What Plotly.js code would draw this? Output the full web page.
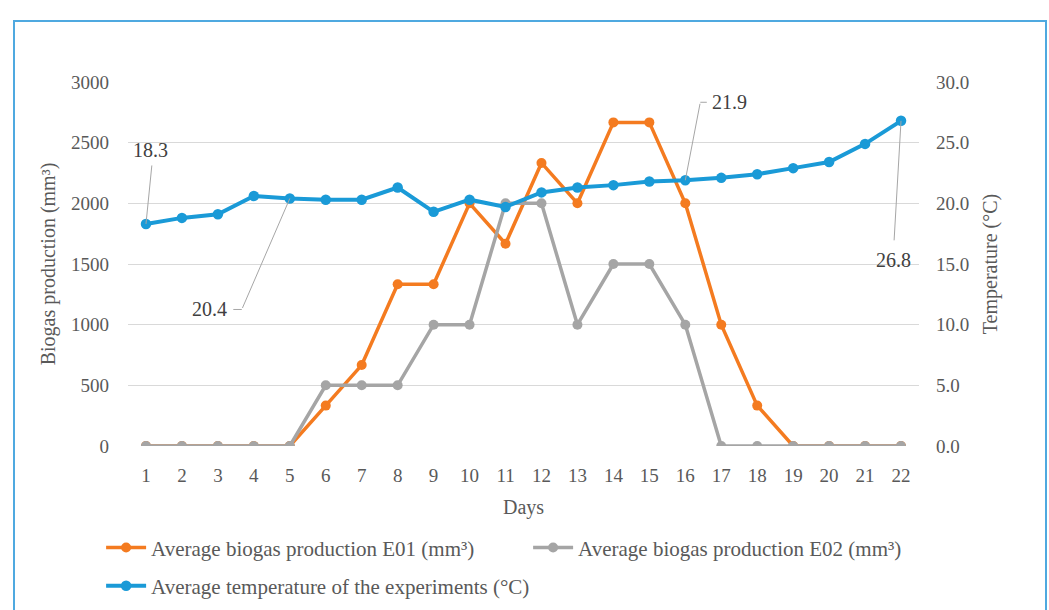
<!DOCTYPE html>
<html><head><meta charset="utf-8">
<script src="https://cdn.plot.ly/plotly-3.0.1.min.js"></script>
<style>
html,body{margin:0;padding:0;background:#fff;}
#chart{width:1049px;height:610px;}
#frame{position:absolute;left:13px;top:20px;width:1030px;height:600px;border:2px solid #4FA9E0;pointer-events:none;}
</style>
</head><body>
<div id="chart"></div><div id="frame"></div>
<script>
const days = [1,2,3,4,5,6,7,8,9,10,11,12,13,14,15,16,17,18,19,20,21,22];
const e01 = [0,0,0,0,0,333,667,1333,1333,2000,1667,2333,2000,2667,2667,2000,1000,333,0,0,0,0];
const e02 = [0,0,0,0,0,500,500,500,1000,1000,2000,2000,1000,1500,1500,1000,0,0,0,0,0,0];
const temp = [18.3,18.8,19.1,20.6,20.4,20.3,20.3,21.3,19.3,20.3,19.7,20.9,21.3,21.5,21.8,21.9,22.1,22.4,22.9,23.4,24.9,26.8];
const leftTicks = [0,500,1000,1500,2000,2500,3000];
const rightTicks = [0,5,10,15,20,25,30];
const labelledDays = [1,5,16,22];
const names = ['Average biogas production E01 (mm³)','Average biogas production E02 (mm³)','Average temperature of the experiments (°C)'];

const FONT = 'Liberation Serif';
const TXT = '#595959';

const traces = [
  {x:days,y:e01,name:names[0],type:'scatter',mode:'lines+markers',line:{color:'#F47B20',width:3.5},marker:{color:'#F47B20',size:10},legend:'legend'},
  {x:days,y:e02,name:names[1],type:'scatter',mode:'lines+markers',line:{color:'#A5A5A5',width:3.5},marker:{color:'#A5A5A5',size:10},legend:'legend'},
  {x:days,y:temp,name:names[2],type:'scatter',mode:'lines+markers',yaxis:'y2',line:{color:'#1A9AD7',width:4},marker:{color:'#1A9AD7',size:10.5},legend:'legend2'}
];

// leader-line geometry (pixel offsets) per labelled day
const leaders = {
  1:{arm:[6,-60],text:[5,74]},
  5:{arm:[-48,111],elbow:[-10,0],text:[-80,-111]},
  16:{arm:[15,-78],elbow:[8,0],text:[44,78]},
  22:{arm:[-7,121],text:[-8,-139]}
};
const annotations = [];
labelledDays.forEach(d=>{
  const v = temp[days.indexOf(d)];
  const g = leaders[d];
  annotations.push({x:d,y:v,xref:'x',yref:'y2',text:'',showarrow:true,arrowhead:0,arrowwidth:1,arrowcolor:'#A6A6A6',standoff:0,ax:g.arm[0],ay:g.arm[1]});
  if(g.elbow){
    annotations.push({x:d,y:v,xref:'x',yref:'y2',xshift:g.arm[0],yshift:-g.arm[1],text:'',showarrow:true,arrowhead:0,arrowwidth:1,arrowcolor:'#A6A6A6',standoff:0,ax:g.elbow[0],ay:g.elbow[1]});
  }
  annotations.push({x:d,y:v,xref:'x',yref:'y2',xshift:g.text[0],yshift:g.text[1],text:v.toFixed(1),showarrow:false,font:{family:FONT,size:20,color:'#404040'}});
});

const layout = {
  width:1049,height:610,
  margin:{l:128,r:130,t:82,b:164,autoexpand:false},
  paper_bgcolor:'#fff',plot_bgcolor:'#fff',
  font:{family:FONT,size:19,color:TXT},
  xaxis:{range:[0.5,22.5],tickvals:days,ticktext:days.map(String),showgrid:false,zeroline:false,showline:false,ticks:'',ticklabelstandoff:16,
    tickfont:{family:FONT,size:19,color:TXT},title:{text:'Days',font:{family:FONT,size:20,color:TXT},standoff:14}},
  yaxis:{range:[0,3000],tickvals:leftTicks,ticktext:leftTicks.map(String),showgrid:true,gridcolor:'#D9D9D9',gridwidth:1,zeroline:false,showline:false,ticks:'',ticklabelstandoff:18,
    tickfont:{family:FONT,size:19,color:TXT},title:{text:'Biogas production (mm³)',font:{family:FONT,size:20,color:TXT},standoff:10}},
  yaxis2:{range:[0,30],overlaying:'y',side:'right',tickvals:rightTicks,ticktext:rightTicks.map(v=>v.toFixed(1)),showgrid:false,zeroline:false,showline:false,ticks:'',ticklabelstandoff:16,
    tickfont:{family:FONT,size:19,color:TXT},title:{text:'Temperature (°C)',font:{family:FONT,size:20,color:TXT},standoff:14}},
  legend:{orientation:'h',x:-0.034,xanchor:'left',y:-0.28,yanchor:'middle',entrywidth:372,entrywidthmode:'pixels',itemwidth:40,
    font:{family:FONT,size:21,color:TXT},bgcolor:'rgba(0,0,0,0)',traceorder:'normal'},
  legend2:{orientation:'h',x:-0.034,xanchor:'left',y:-0.385,yanchor:'middle',itemwidth:40,
    font:{family:FONT,size:21,color:TXT},bgcolor:'rgba(0,0,0,0)'},
  annotations:annotations,
  showlegend:true
};
Plotly.newPlot('chart',traces,layout,{displayModeBar:false,staticPlot:true});
</script>
</body></html>
